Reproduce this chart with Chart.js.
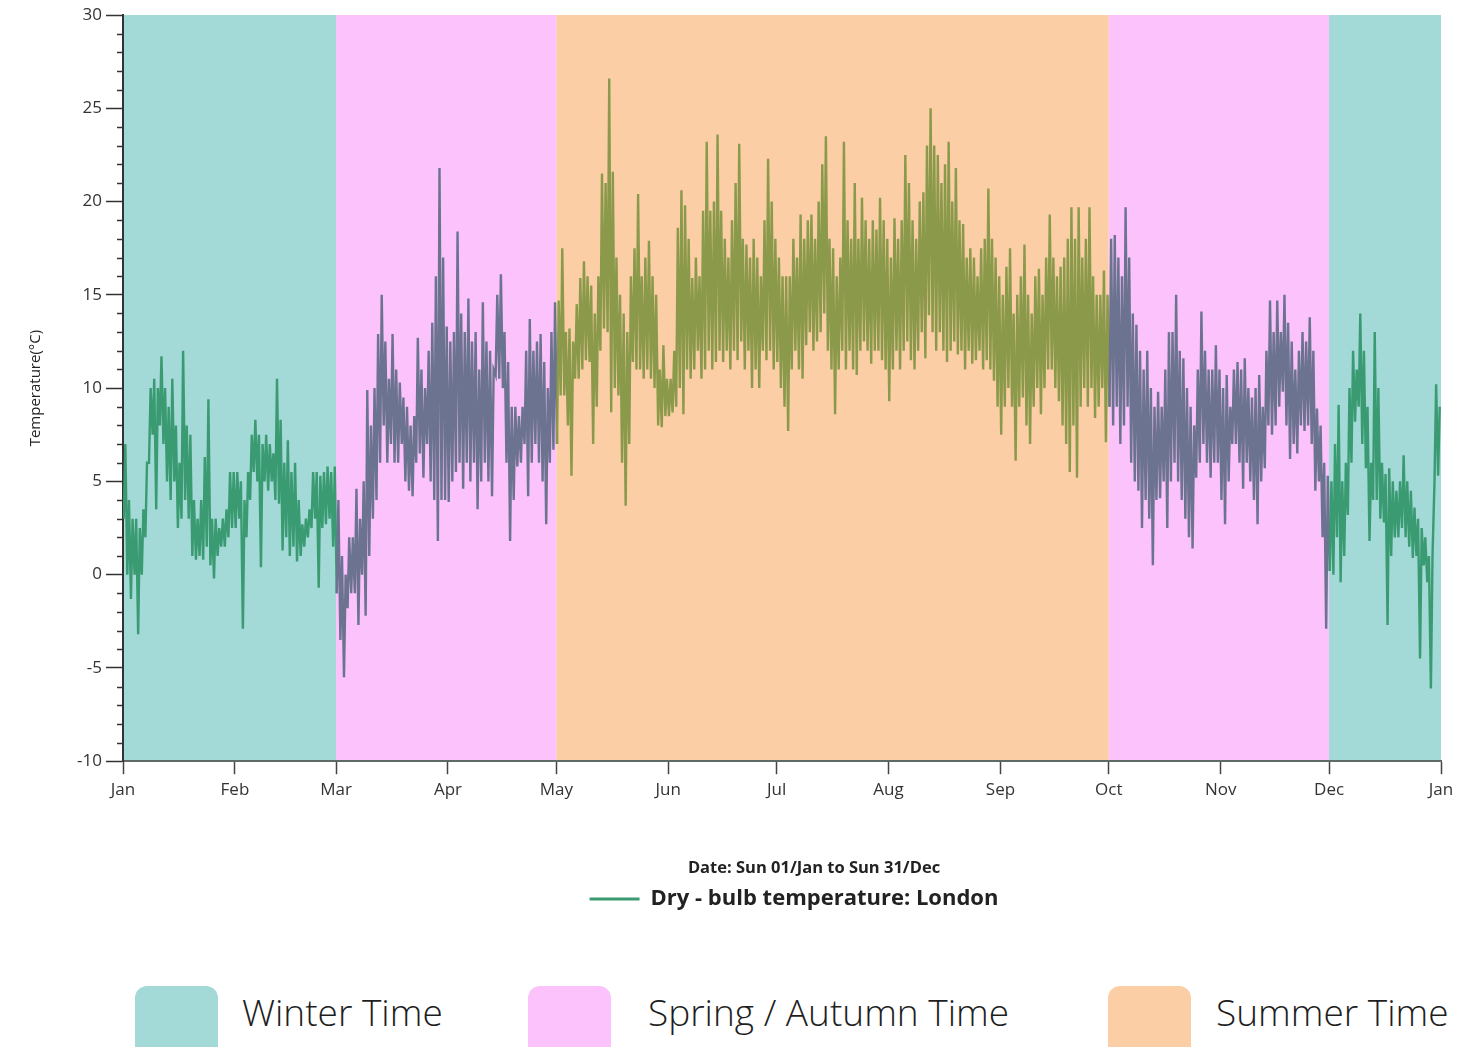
<!DOCTYPE html>
<html>
<head>
<meta charset="utf-8">
<script src="https://cdn.jsdelivr.net/npm/chart.js@4.4.0/dist/chart.umd.min.js"></script>
<style>
    body { margin: 0; background: #fff; font-family: "Open Sans", sans-serif; }
    #wrap { position: relative; width: 1478px; height: 1047px; overflow: hidden; }
    #box { position: absolute; left: 0; top: 0; width: 1478px; height: 922px; }
    .sw { position: absolute; top: 986px; width: 83px; height: 75px; border-radius: 12px; }
    .lab { position: absolute; top: 993px; font-size: 37px; font-weight: 300; line-height: 1; color: #1e1e1e; white-space: nowrap; }
</style>
</head>
<body>
<div id="wrap">
    <div id="box"><canvas id="tempChart"></canvas></div>
    <div class="sw" style="left:135px; background:#a3d9d6"></div>
    <div class="lab" style="left:242px">Winter Time</div>
    <div class="sw" style="left:528px; background:#fcc2fb"></div>
    <div class="lab" style="left:648px">Spring / Autumn Time</div>
    <div class="sw" style="left:1108px; background:#fccea6"></div>
    <div class="lab" style="left:1216px">Summer Time</div>
</div>
<script>
// daily [low, high] dry-bulb temperature, London
const jan = [[3,7],[0,4],[-1.3,3],[0,3],[-3.2,2.5],[0,3.5],[2,6],[6,10],[7.5,10.5],[3.5,10],[8,11.7],[7,10],[5,9],[4,10.5],[5,8],[2.5,6],[3,12],[4,8],[3,7.5],[1,4],[0.8,3],[1,4],[0.8,6.3],[1.5,9.4],[0.5,3],[-0.2,3],[1,2.5],[1.5,3],[1.5,3.5],[2,5.5],[2.5,5.5]];
const feb = [[2.5,5.5],[3,5],[-2.9,4],[2,5.5],[4,7.5],[5.5,8.3],[5,7.5],[0.4,7],[5,7.5],[4.5,7],[5,6.5],[4,10.5],[3.8,8.3],[1.3,6],[2,7.2],[1,5.5],[1.5,6],[0.7,4],[1,2.7],[1.5,3],[2,3.5],[2.5,5.5],[3,5.5],[-0.7,5.3],[2.5,5.5],[2.7,5.8],[3,5.5],[1.5,5.8]];
const mar = [[-1,4],[-3.5,1],[-5.5,0],[-1.8,2],[-1,2],[-1,4.6],[-2.7,3],[0,5],[-2.2,9.9],[1,8],[3,10],[4,12.9],[6,15],[8,12.5],[6,10.5],[7,12.9],[6,11],[6,10.3],[7,9.5],[5,9],[4.5,8],[4.2,8.5],[6,12.7],[6.5,11],[5.2,10],[7,12],[5,13.5],[4,16],[1.8,21.8],[4,17],[4,13.3]];
const apr = [[3.9,12.5],[5,13],[5.5,18.4],[6,14],[4.6,13],[6,14.8],[5,12.5],[6,13],[3.5,11],[5,14.6],[6,12.5],[5,12],[4.2,11],[10.7,15],[10.5,16.1],[10,13],[6,11.4],[1.8,9],[4,9],[5.8,8.5],[6,9],[7,12],[4.2,13.7],[6,12],[7,12.5],[6,12.9],[5,11.4],[2.7,10],[6,13],[6.7,14.6]];
const may = [[7,14.7],[9.6,17.5],[9.6,13],[8,13.2],[5.3,12.5],[10.5,14.5],[10.5,15.9],[11,16.8],[11.5,16],[11.4,15.5],[7,14],[9,16],[12,21.5],[13.2,21],[13,26.6],[8.7,21.6],[10,17],[9.6,15],[6,14],[3.7,13],[7,16],[11.4,17.5],[11,20.4],[11,16],[10.5,17],[11,17.9],[10.5,16],[10,15],[8,11],[7.9,12.3],[8.5,10.5]];
const jun = [[8.5,10.5],[8.7,12],[9,18.6],[10,20.6],[8.6,19.8],[11,18],[10.5,15.9],[11,17],[12,16],[10.5,19.5],[11,23.2],[12,19.5],[11,20],[11.4,23.6],[12,19.5],[11.4,18],[12,17],[11,19],[12,21],[11.5,23.1],[12.5,18],[11,17.7],[12,17],[10,18],[11,17],[10,16],[12,19],[11.5,22.3],[12,20],[11,18]];
const jul = [[11.4,17],[10,16],[9,16],[7.7,16],[11,18],[12,17],[11,19.3],[10.5,18],[12.3,19],[13,19.3],[12,18],[12.5,20],[13,22],[14,23.5],[12,18],[11,17.5],[8.6,16],[11,17],[12,23.2],[11,19],[12,18],[11,21],[10.7,18],[12,20.2],[12.5,19],[12,18],[11.3,19],[12,18.5],[12,20.2],[11.5,19],[11,18]];
const aug = [[9.3,17],[11,19.1],[12,18],[11,19],[12,22.5],[12.5,21],[11.5,19],[11,18],[12,20],[13,20.5],[11.6,23],[13.9,25],[13,23],[12,22.5],[13,21],[12,22],[11.4,23.2],[12,20],[12.5,21.8],[11.8,19],[12,18.8],[11,17],[12,17.5],[11.3,17],[11.5,16],[12,17.5],[11,18],[11.5,20.7],[11,18],[10.4,17],[9,16]];
const sep = [[7.5,15],[9,16.5],[10,17.5],[9,14],[6.1,15],[9,16],[9.5,17.7],[8,15],[7,14],[9,16],[10,16.4],[8.6,15],[10,17],[11,19.3],[11,17],[10,16],[9.3,16.5],[8,17],[7,18],[5.5,19.7],[8,18],[5.2,19.7],[9,17],[10,18],[9,19.7],[10,16],[8.4,15],[9,15],[10,16.3],[7.1,15]];
const oct = [[9,18],[8,18.2],[9,17],[7,16],[8,19.7],[9,17],[6,14],[5,13.4],[4.5,12],[2.5,11],[4,12],[3,10],[0.5,9],[4,9.8],[4.1,9],[5,11],[2.5,13],[5,13],[6,15],[5,12],[4,11.6],[3,10],[2,9],[1.4,8],[5.2,11],[6,14.1],[7,12],[6,11],[5.2,11],[6,12.3],[6,11]];
const nov = [[4,10],[2.7,10.7],[5,9],[7,11],[7,11.4],[6,11],[4.6,11.6],[6,10],[5,9.5],[4,10],[2.7,10.7],[5,9],[5.7,12],[8,14.7],[7.5,13],[8,14.7],[9,13],[9.8,15],[8,13.5],[6.2,12.5],[7,11],[6.5,12],[8,13],[7.7,12.5],[8,13.8],[7,12],[4.5,8.9],[5,8],[2,6],[-2.9,5.3]];
const dec = [[0.2,5],[0,7],[2,9.1],[-0.4,5],[1,6],[3.2,10],[6,12],[8.2,11],[9,14],[7,12],[5.7,9],[1.8,6],[4,13],[4,10],[3,6],[2.8,5.4],[-2.7,5.7],[1,5],[2,4.5],[2,5],[2.5,6.4],[2,5],[1.5,4.5],[0.9,3.6],[1,3],[-4.5,2.5],[0.5,2],[-0.4,1],[-6.1,1],[5,10.2],[5.3,9]];

const monthStarts = [0, 31, 59, 90, 120, 151, 181, 212, 243, 273, 304, 334, 365];
const monthLabels = ['Jan', 'Feb', 'Mar', 'Apr', 'May', 'Jun', 'Jul', 'Aug', 'Sep', 'Oct', 'Nov', 'Dec', 'Jan'];
const yTicks = [-10, -5, 0, 5, 10, 15, 20, 25, 30];
const bandEdges = [0, 59, 120, 273, 334, 365];
const bandKind = ['winter', 'mid', 'summer', 'mid', 'winter'];

const palette = {
    winter: { band: '#a3d9d6', line: '#3a9a72' },
    mid: { band: '#fcc2fb', line: '#6b7390' },
    summer: { band: '#fccea6', line: '#8a9a4a' }
};

// low near dawn, high mid-afternoon
const points = [];
let day = 0;
[jan, feb, mar, apr, may, jun, jul, aug, sep, oct, nov, dec].forEach(month => {
    month.forEach(([lo, hi]) => {
        points.push({ x: day + 0.2, y: lo }, { x: day + 0.65, y: hi });
        day++;
    });
});

function kindAt(x) {
    for (let i = 0; i < bandKind.length; i++) {
        if (x < bandEdges[i + 1]) return bandKind[i];
    }
    return bandKind[bandKind.length - 1];
}

const seasonBands = {
    id: 'seasonBands',
    afterLayout(chart) {
        // the date line and legend sit a little right of centre in the original
        chart.titleBlock.left += 82;
        chart.titleBlock.right += 82;
        chart.legend.left += 62;
        chart.legend.right += 62;
    },
    beforeDraw(chart) {
        const { ctx, chartArea: a, scales: { x } } = chart;
        ctx.save();
        for (let i = 0; i < bandKind.length; i++) {
            const x0 = x.getPixelForValue(bandEdges[i]);
            const x1 = x.getPixelForValue(bandEdges[i + 1]);
            ctx.fillStyle = palette[bandKind[i]].band;
            ctx.fillRect(x0, a.top, x1 - x0, a.bottom - a.top);
        }
        ctx.restore();
    },
    afterDraw(chart) {
        // minor ticks every degree
        const { ctx, chartArea: a, scales: { y } } = chart;
        ctx.save();
        ctx.strokeStyle = '#333';
        ctx.lineWidth = 1.5;
        for (let v = -10; v <= 30; v++) {
            if (v % 5 === 0) continue;
            const py = Math.round(y.getPixelForValue(v)) + 0.5;
            ctx.beginPath();
            ctx.moveTo(a.left - 6, py);
            ctx.lineTo(a.left, py);
            ctx.stroke();
        }
        ctx.restore();
    }
};

Chart.defaults.font.family = '"Open Sans", sans-serif';

new Chart(document.getElementById('tempChart'), {
    type: 'line',
    data: {
        datasets: [{
            label: 'Dry - bulb temperature: London',
            data: points,
            borderColor: palette.winter.line,
            backgroundColor: palette.winter.line,
            borderWidth: 2.4,
            pointRadius: 0,
            fill: false,
            tension: 0,
            segment: {
                borderColor: c => palette[kindAt(c.p0.parsed.x)].line
            }
        }]
    },
    options: {
        responsive: true,
        maintainAspectRatio: false,
        animation: false,
        layout: {
            padding: { top: 15, right: 37, left: 23, bottom: 2 }
        },
        plugins: {
            title: {
                display: true,
                position: 'bottom',
                weight: 500,
                text: 'Date: Sun 01/Jan to Sun 31/Dec',
                color: '#222',
                font: { size: 16.5, weight: 'bold' },
                padding: 0
            },
            legend: {
                position: 'bottom',
                labels: {
                    boxWidth: 50,
                    boxHeight: 3,
                    padding: 10,
                    color: '#222',
                    font: { size: 22, weight: 'bold' },
                    generateLabels: chart => Chart.defaults.plugins.legend.labels.generateLabels(chart)
                        .map(l => ({ ...l, lineWidth: 0 }))
                }
            },
            tooltip: { enabled: false }
        },
        scales: {
            x: {
                type: 'linear',
                min: 0,
                max: 365,
                afterBuildTicks: s => { s.ticks = monthStarts.map(v => ({ value: v })); },
                afterFit: s => { s.height = 97; },
                ticks: {
                    autoSkip: false,
                    maxRotation: 0,
                    padding: 6,
                    color: '#333',
                    font: { size: 17 },
                    callback: (v, i) => monthLabels[i]
                },
                grid: { drawOnChartArea: false, tickLength: 13, tickColor: '#444', tickWidth: 1.5 },
                border: { color: '#5f6a68', width: 2 }
            },
            y: {
                min: -10,
                max: 30,
                afterBuildTicks: s => { s.ticks = yTicks.map(v => ({ value: v })); },
                afterFit: s => { s.width = 100; },
                ticks: { color: '#333', padding: 4, font: { size: 17 } },
                grid: { drawOnChartArea: false, tickLength: 17, tickColor: '#333', tickWidth: 1.5 },
                border: { color: '#333', width: 2 },
                title: {
                    display: true,
                    text: 'Temperature(°C)',
                    color: '#222',
                    font: { size: 15 }
                }
            }
        }
    },
    plugins: [seasonBands]
});
</script>
</body>
</html>
